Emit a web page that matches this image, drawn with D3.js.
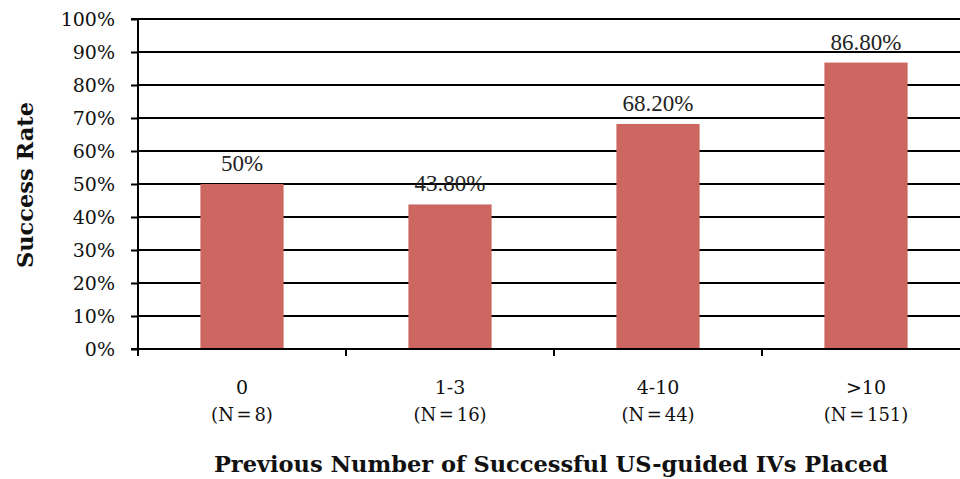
<!DOCTYPE html>
<html>
<head>
    <meta charset="utf-8">
    <script src="https://d3js.org/d3.v7.min.js"></script>
    <style>
        body { margin: 0; background: #fff; }
        svg { display: block; }
    </style>
</head>
<body>
<div id="chart"></div>
<script>
    // data
    let categories = ["0", "1-3", "4-10", ">10"];
    let counts = ["(N = 8)", "(N = 16)", "(N = 44)", "(N = 151)"];
    let rates = [50, 43.8, 68.2, 86.8];
    let rateLabels = ["50%", "43.80%", "68.20%", "86.80%"];
    let yTicks = [0, 10, 20, 30, 40, 50, 60, 70, 80, 90, 100];

    let width = 960, height = 479;
    let plotLeft = 138, plotRight = 970, plotTop = 19, plotBottom = 349;

    let svg = d3.select("#chart")
        .append("svg")
            .attr("width", width)
            .attr("height", height);

    let y = d3.scaleLinear()
        .domain([0, 100])
        .range([plotBottom, plotTop]);

    let x = d3.scaleBand()
        .domain(categories)
        .range([plotLeft, plotRight])
        .paddingInner(0.6)
        .paddingOuter(0.3);

    // gridlines
    svg.append("g")
        .selectAll("line")
        .data(yTicks.filter(d => d > 0))
        .join("line")
            .attr("x1", plotLeft)
            .attr("x2", width)
            .attr("y1", d => y(d))
            .attr("y2", d => y(d))
            .attr("stroke", "#000")
            .attr("stroke-width", 2);

    // bars
    svg.append("g")
        .selectAll("rect")
        .data(rates)
        .join("rect")
            .attr("x", (d, i) => x(categories[i]))
            .attr("y", d => y(d))
            .attr("width", x.bandwidth())
            .attr("height", d => plotBottom - y(d))
            .attr("fill", "#cd6660");

    // value labels
    svg.append("g")
        .selectAll("text")
        .data(rates)
        .join("text")
            .attr("x", (d, i) => x(categories[i]) + x.bandwidth() / 2)
            .attr("y", d => y(d) - 13)
            .attr("text-anchor", "middle")
            .style("font-family", "'Liberation Serif', 'Times New Roman', serif")
            .style("font-size", "23px")
            .style("fill", "#222")
            .text((d, i) => rateLabels[i]);

    // y axis
    let yAxis = d3.axisLeft(y)
        .tickValues(yTicks)
        .tickFormat(d => d + "%")
        .tickSize(7)
        .tickPadding(16);

    let gy = svg.append("g")
        .attr("transform", `translate(${plotLeft},0)`)
        .call(yAxis);
    gy.select(".domain").attr("stroke-width", 2).attr("d", `M-7,${plotTop}H0V${plotBottom}H-7`);
    gy.selectAll(".tick line").attr("stroke-width", 2);
    gy.selectAll(".tick text")
        .style("font-family", "'DejaVu Serif', Georgia, serif")
        .style("font-size", "19px")
        .style("fill", "#111");

    // x axis line with separators between categories
    let step = x.step();
    let sep = d3.range(categories.length + 1).map(i => plotLeft + i * step);
    svg.append("line")
        .attr("x1", plotLeft)
        .attr("x2", width)
        .attr("y1", plotBottom)
        .attr("y2", plotBottom)
        .attr("stroke", "#000")
        .attr("stroke-width", 2);
    svg.append("g")
        .selectAll("line")
        .data(sep)
        .join("line")
            .attr("x1", d => d)
            .attr("x2", d => d)
            .attr("y1", plotBottom)
            .attr("y2", plotBottom + 7)
            .attr("stroke", "#000")
            .attr("stroke-width", 2);

    // category labels
    let cat = svg.append("g")
        .selectAll("text")
        .data(categories)
        .join("text")
            .attr("x", d => x(d) + x.bandwidth() / 2)
            .attr("text-anchor", "middle")
            .style("font-family", "'DejaVu Serif', Georgia, serif")
            .style("font-size", "19px")
            .style("fill", "#111");
    cat.append("tspan")
        .attr("x", d => x(d) + x.bandwidth() / 2)
        .attr("y", 394)
        .text(d => d);
    cat.append("tspan")
        .attr("x", d => x(d) + x.bandwidth() / 2)
        .attr("y", 421)
        .style("font-size", "18px")
        .style("word-spacing", "-3px")
        .text((d, i) => counts[i]);

    // axis titles
    svg.append("text")
        .attr("x", 551)
        .attr("y", 472)
        .attr("text-anchor", "middle")
        .style("font-family", "'DejaVu Serif', Georgia, serif")
        .style("font-weight", "bold")
        .style("font-size", "22.5px")
        .style("fill", "#111")
        .text("Previous Number of Successful US-guided IVs Placed");

    svg.append("text")
        .attr("transform", "translate(33,185) rotate(-90)")
        .attr("text-anchor", "middle")
        .style("font-family", "'DejaVu Serif', Georgia, serif")
        .style("font-weight", "bold")
        .style("font-size", "22.5px")
        .style("fill", "#111")
        .text("Success Rate");
</script>
</body>
</html>
